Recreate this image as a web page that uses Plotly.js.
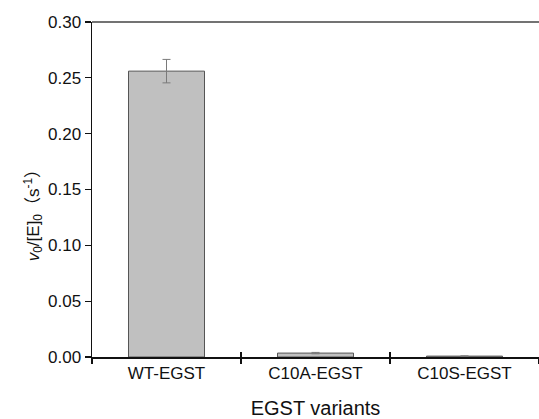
<!DOCTYPE html>
<html><head><meta charset="utf-8">
<script src="https://cdn.plot.ly/plotly-3.0.1.min.js"></script>
<style>html,body{margin:0;padding:0;background:#fff}</style>
</head><body>
<div id="chart" style="width:539px;height:419px"></div>
<script>
const categories = ["WT-EGST", "C10A-EGST", "C10S-EGST"];
const rates = [0.256, 0.0035, 0.0008];
const errors = [0.0105, 0.0006, 0.0002];
const yTickVals = [0, 0.05, 0.10, 0.15, 0.20, 0.25, 0.30];
const yTickText = ["0.00", "0.05", "0.10", "0.15", "0.20", "0.25", "0.30"];
const xTitle = "EGST variants";
const yTitle = "<i>v</i><sub>0</sub>/[E]<sub>0</sub>（s<sup>-1</sup>）";

const font = "Liberation Sans, Arial, Noto Sans CJK SC, sans-serif";
const trace = {
  type: "bar",
  x: categories,
  y: rates,
  width: 0.51,
  marker: {color: "#c0c0c0", line: {color: "#555555", width: 1}},
  error_y: {type: "data", array: errors, visible: true, color: "#7a7a7a", thickness: 1, width: 4},
  hoverinfo: "skip"
};
const layout = {
  width: 539, height: 419,
  margin: {l: 92, r: 0, t: 22, b: 62},
  paper_bgcolor: "#fff", plot_bgcolor: "#fff",
  showlegend: false,
  font: {family: font, color: "#111", size: 16},
  xaxis: {
    type: "category", range: [-0.5, 2.5],
    showline: true, linecolor: "#111", linewidth: 1.5, mirror: false,
    ticks: "outside", tickson: "boundaries", ticklen: 5, tickcolor: "#111", tickwidth: 1.2,
    tickfont: {family: font, size: 17, color: "#111"},
    title: {text: xTitle, font: {family: font, size: 20, color: "#111"}, standoff: 20},
    showgrid: false, zeroline: false
  },
  xaxis2: {
    type: "category", range: [-0.5, 2.5], overlaying: "x", matches: "x",
    ticks: "inside", tickson: "boundaries", ticklen: 5, tickcolor: "#111", tickwidth: 1.2,
    showticklabels: false, showline: false, showgrid: false, zeroline: false
  },
  yaxis: {
    range: [0, 0.30],
    tickvals: yTickVals, ticktext: yTickText,
    showline: true, linecolor: "#111", linewidth: 1.5, mirror: false,
    ticks: "outside", ticklen: 6, tickcolor: "#111", tickwidth: 1.2,
    tickfont: {family: font, size: 17, color: "#111"},
    showgrid: false, zeroline: false
  },
  annotations: [
    {text: yTitle, xref: "paper", yref: "paper", x: -0.132, y: 0.435, xanchor: "center", yanchor: "middle",
     textangle: -90, showarrow: false, font: {family: font, size: 17, color: "#111"}}
  ],
  shapes: [
    {type: "line", xref: "paper", yref: "paper", x0: 0, x1: 1, y0: 1, y1: 1, line: {color: "#444", width: 1.5}}
  ]
};
const ghost = {type: "bar", x: categories, y: [0, 0, 0], xaxis: "x2", hoverinfo: "skip", marker: {color: "rgba(0,0,0,0)"}};
Plotly.newPlot("chart", [trace, ghost], layout, {displayModeBar: false, staticPlot: true});
</script>
</body></html>
